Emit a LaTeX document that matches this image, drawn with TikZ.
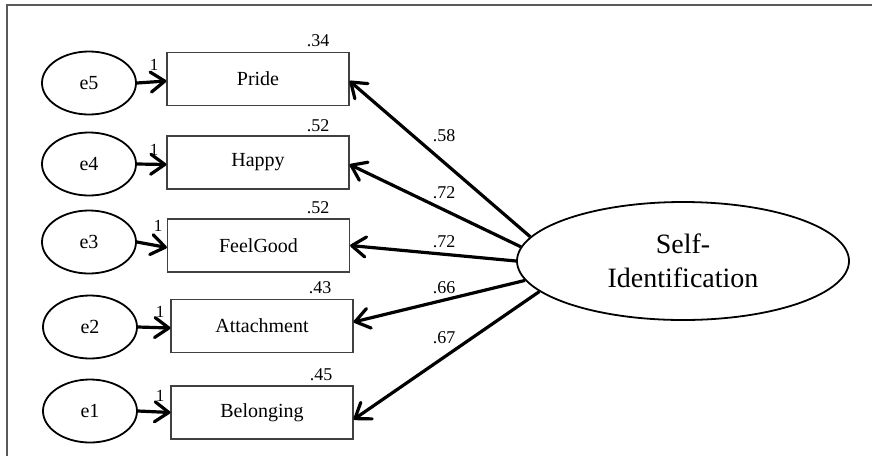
\documentclass[tikz,border=0pt]{standalone}
\usepackage{fontspec}
\setmainfont{Liberation Serif}
\usetikzlibrary{arrows.meta,shapes.geometric}
\tikzset{
 box/.style={draw=black!75, line width=1.2pt, minimum width=182pt, minimum height=53pt, inner sep=0pt, font=\fontsize{20}{24}\selectfont},
 err/.style={ellipse, draw, line width=1.8pt, minimum width=94pt, minimum height=63pt, inner sep=0pt, font=\fontsize{20}{24}\selectfont},
 lat/.style={ellipse, draw, line width=1.8pt, minimum width=332pt, minimum height=118pt, inner sep=0pt, align=center, font=\fontsize{28}{34}\selectfont},
 arr/.style={line width=3.2pt, -{Straight Barb[length=14pt,width=20pt,round]}},
 num/.style={font=\fontsize{18}{20}\selectfont, inner sep=0pt},
 one/.style={font=\fontsize{17}{19}\selectfont, inner sep=0pt},
 frame/.style={draw=black!65, line width=1.5pt},
}
\begin{document}
\begin{tikzpicture}[x=1pt,y=-1pt]
\useasboundingbox (0,0) rectangle (872,456);
\draw[frame] (7,456) -- (7,5) -- (872,5);
% indicator boxes
\node[box] (P) at (258,79) {Pride};
\node[box] (H) at (258,162.5) {Happy};
\node[box] (F) at (258.5,245.5) {FeelGood};
\node[box] (A) at (262,326) {Attachment};
\node[box] (B) at (262,412.5) {Belonging};
% error terms
\node[err] (e5) at (89,83) {e5};
\node[err] (e4) at (89,164) {e4};
\node[err] (e3) at (89,242) {e3};
\node[err] (e2) at (90,327) {e2};
\node[err] (e1) at (90,411) {e1};
% latent
\node[lat] (SI) at (683,261) {Self-\\Identification};
% error arrows
\draw[arr] (e5.east) -- ([yshift=-2pt]P.west);
\draw[arr] (e4.east) -- ([yshift=-2pt]H.west);
\draw[arr] (e3.east) -- ([yshift=-2pt]F.west);
\draw[arr] (e2.east) -- ([yshift=-2pt]A.west);
\draw[arr] (e1.east) -- (B.west);
% loadings
\draw[arr] (SI.171) -- ([yshift=-2pt]P.east);
\draw[arr] (SI.175) -- ([yshift=-2pt]H.east);
\draw[arr] (SI.180) -- (F.east);
\draw[arr] (SI.187) -- ([yshift=4pt]A.east);
\draw[arr] (SI.192) -- ([yshift=-7pt]B.east);
% "1" labels
\node[one] (o5) at (154,65) {1};
\node[one] (o4) at (154,150) {1};
\node[one] (o3) at (158,226) {1};
\node[one] (o2) at (160,312) {1};
\node[one] (o1) at (160,396) {1};
% R2 labels
\node[num] (r5) at (318,41) {.34};
\node[num] (r4) at (318,126) {.52};
\node[num] (r3) at (318,208) {.52};
\node[num] (r2) at (320,288) {.43};
\node[num] (r1) at (321,375) {.45};
% loading labels
\node[num] (l5) at (444,136) {.58};
\node[num] (l4) at (444,193) {.72};
\node[num] (l3) at (444,242) {.72};
\node[num] (l2) at (444,288) {.66};
\node[num] (l1) at (444,338) {.67};
\end{tikzpicture}
\end{document}
